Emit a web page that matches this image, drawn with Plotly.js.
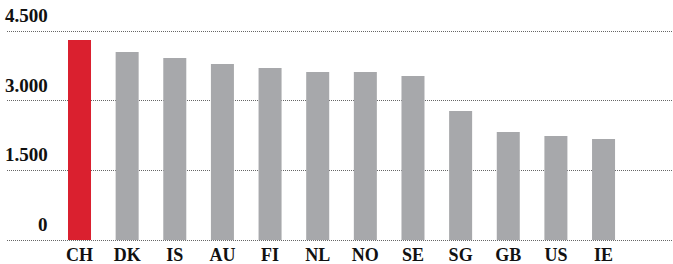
<!DOCTYPE html>
<html>
<head>
<meta charset="utf-8">
<script src="https://cdn.plot.ly/plotly-3.0.1.min.js"></script>
<style>html,body{margin:0;padding:0;background:#fff;}</style>
</head>
<body>
<div id="chart" style="width:673px;height:264px;"></div>
<script>
const countries = ['CH','DK','IS','AU','FI','NL','NO','SE','SG','GB','US','IE'];
const values = [4307, 4048, 3919, 3790, 3704, 3617, 3617, 3531, 2778, 2326, 2239, 2175];
const highlight = 'CH';
const tickValues = [0, 1500, 3000, 4500];
const tickLabels = ['0', '1.500', '3.000', '4.500'];

const RED = '#DA202F';
const GRAY = '#A7A8AB';
const FONT = 'Liberation Serif, Georgia, serif';

const colors = countries.map(c => c === highlight ? RED : GRAY);

const trace = {
  type: 'bar',
  x: countries.map((c, i) => i),
  y: values,
  marker: {color: colors, line: {width: 0}},
  hoverinfo: 'skip'
};

const annotations = tickValues.map((v, i) => ({
  xref: 'paper', yref: 'y',
  x: 0.0646, y: v,
  xanchor: 'right', yanchor: 'bottom',
  yshift: 3,
  text: tickLabels[i],
  showarrow: false,
  font: {family: FONT, size: 19, color: '#111', weight: 'bold'}
}));

const layout = {
  width: 673, height: 264,
  margin: {l: 7, r: 0, t: 29, b: 22, pad: 0},
  paper_bgcolor: '#fff', plot_bgcolor: '#fff',
  bargap: 0.517,
  showlegend: false,
  xaxis: {
    range: [-1.522, 12.458],
    tickmode: 'array',
    tickvals: countries.map((c, i) => i),
    ticktext: countries,
    showgrid: false, zeroline: false, showline: false,
    ticks: '',
    tickfont: {family: FONT, size: 18, color: '#111', weight: 'bold'},
    fixedrange: true
  },
  yaxis: {
    range: [-43.06, 4543.06],
    tickmode: 'array',
    tickvals: tickValues,
    showticklabels: false,
    showgrid: true,
    gridcolor: '#666',
    gridwidth: 1,
    griddash: '1px,1px',
    zeroline: false,
    showline: false,
    ticks: '',
    fixedrange: true
  },
  annotations: annotations
};

Plotly.newPlot('chart', [trace], layout, {displayModeBar: false, staticPlot: true});
</script>
</body>
</html>
